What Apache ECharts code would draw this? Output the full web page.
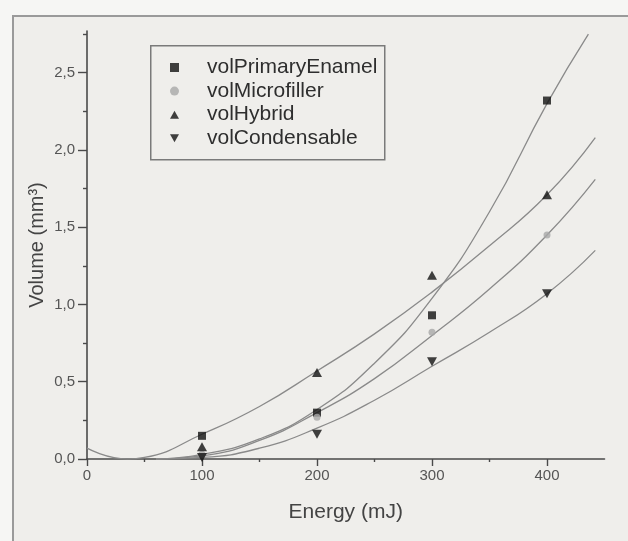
<!DOCTYPE html>
<html>
<head>
<meta charset="utf-8">
<script src="https://cdn.jsdelivr.net/npm/echarts@6/dist/echarts.min.js"></script>
<style>html,body{margin:0;padding:0;background:#f6f6f4}#c{width:628px;height:541px}</style>
</head>
<body>
<div id="c"></div>
<script>
// measured points (Energy mJ -> Volume mm3)
const energies = [100, 200, 300, 400];
const volPrimaryEnamel = [0.15, 0.30, 0.93, 2.32];
const volMicrofiller = [0.03, 0.27, 0.82, 1.45];
const volHybrid = [0.08, 0.56, 1.19, 1.71];
const volCondensable = [0.01, 0.16, 0.63, 1.07];

// fitted curves: [energy, volume]
const fitPrimaryEnamel = [[60,0],[100,0.03],[150,0.13],[200,0.32],[250,0.62],[300,1.04],[350,1.6],[400,2.3],[436,2.75]];
const fitMicrofiller = [[60,0],[100,0.02],[150,0.12],[200,0.3],[250,0.52],[300,0.8],[350,1.1],[400,1.45],[442,1.81]];
const fitHybrid = [[0,0.07],[35,0],[50,0.01],[100,0.16],[150,0.34],[200,0.57],[250,0.81],[300,1.08],[350,1.38],[400,1.71],[442,2.08]];
const fitCondensable = [[60,0],[100,0.01],[150,0.07],[200,0.2],[250,0.38],[300,0.6],[350,0.82],[400,1.07],[442,1.35]];

const seriesNames = ['volPrimaryEnamel', 'volMicrofiller', 'volHybrid', 'volCondensable'];

// tick positions
const xMajorTicks = [0, 100, 200, 300, 400];
const xMinorTicks = [50, 150, 250, 350];
const yMajorTicks = [0, 0.5, 1.0, 1.5, 2.0, 2.5];
const yMinorTicks = [0.25, 0.75, 1.25, 1.75, 2.25, 2.75];

const pts = arr => energies.map((e, i) => [e, arr[i]]);
const font = '"Liberation Sans", Arial, sans-serif';
const axisColor = '#4a4a4a';
const curveStyle = { color: '#8a8a8a', width: 1.3 };
const square = 'path://M0,0 L10,0 L10,10 L0,10 Z';
const tri = 'path://M5,0 L10,9 L0,9 Z';
const triDown = 'path://M0,0 L10,0 L5,9 Z';
const icons = [square, 'circle', tri, triDown];

const chart = echarts.init(document.getElementById('c'));
chart.setOption({
  backgroundColor: '#f6f6f4',
  animation: false,
  graphic: [
    { type: 'rect', left: 12, top: 15, shape: { width: 640, height: 560 }, style: { fill: '#efeeeb', stroke: '#9a9a9a', lineWidth: 2 }, z: -10, silent: true },
    { type: 'rect', left: 150, top: 45, shape: { width: 234, height: 114 }, style: { fill: 'rgba(0,0,0,0)', stroke: '#7a7a7a', lineWidth: 1.5 }, z: 5, silent: true }
  ],
  grid: { left: 87, right: 23.5, top: 31, bottom: 82, containLabel: false },
  legend: {
    data: seriesNames.map((n, i) => ({ name: n, icon: icons[i] })),
    orient: 'vertical',
    left: 170,
    top: 57,
    padding: 0,
    itemWidth: 9,
    itemHeight: 9,
    itemGap: 2.6,
    textStyle: { fontFamily: font, fontSize: 21, color: '#2e2e2e', padding: [0, 0, 0, 23] }
  },
  xAxis: [{
    type: 'value', min: 0, max: 450, interval: 100, position: 'bottom',
    name: 'Energy (mJ)', nameLocation: 'middle', nameGap: 43, nameMoveOverlap: false,
    nameTextStyle: { fontFamily: font, fontSize: 21, color: '#444' },
    axisLine: { show: true, onZero: false, lineStyle: { color: axisColor, width: 1.6 } },
    axisTick: { show: true, inside: false, length: 7, customValues: xMajorTicks, lineStyle: { color: axisColor, width: 1.4 } },
    axisLabel: { fontFamily: font, fontSize: 15, color: '#555', margin: 9, customValues: xMajorTicks },
    splitLine: { show: false }
  }, {
    type: 'value', min: 0, max: 450, position: 'bottom', offset: 0,
    axisLine: { show: false },
    axisTick: { show: true, inside: false, length: 3, customValues: xMinorTicks, lineStyle: { color: axisColor, width: 1.4 } },
    axisLabel: { show: false },
    splitLine: { show: false }
  }],
  yAxis: [{
    type: 'value', min: 0, max: 2.77, interval: 0.5, position: 'left',
    name: 'Volume (mm³)', nameLocation: 'middle', nameGap: 40, nameMoveOverlap: false,
    nameTextStyle: { fontFamily: font, fontSize: 20, color: '#444' },
    axisLine: { show: true, onZero: false, lineStyle: { color: axisColor, width: 1.6 } },
    axisTick: { show: true, inside: false, length: 9, customValues: yMajorTicks, lineStyle: { color: axisColor, width: 1.4 } },
    axisLabel: { fontFamily: font, fontSize: 15, color: '#555', margin: 12, customValues: yMajorTicks,
      formatter: v => v.toFixed(1).replace('.', ',') },
    splitLine: { show: false }
  }, {
    type: 'value', min: 0, max: 2.77, position: 'left', offset: 0,
    axisLine: { show: false },
    axisTick: { show: true, inside: false, length: 4, customValues: yMinorTicks, lineStyle: { color: axisColor, width: 1.4 } },
    axisLabel: { show: false },
    splitLine: { show: false }
  }],
  series: [
    { type: 'line', data: fitPrimaryEnamel, smooth: true, showSymbol: false, lineStyle: curveStyle, z: 1, silent: true },
    { type: 'line', data: fitMicrofiller, smooth: true, showSymbol: false, lineStyle: curveStyle, z: 1, silent: true },
    { type: 'line', data: fitHybrid, smooth: true, showSymbol: false, lineStyle: curveStyle, z: 1, silent: true },
    { type: 'line', data: fitCondensable, smooth: true, showSymbol: false, lineStyle: curveStyle, z: 1, silent: true },
    { name: seriesNames[0], type: 'scatter', data: pts(volPrimaryEnamel), symbol: square, symbolSize: 8, itemStyle: { color: '#111' }, z: 3 },
    { name: seriesNames[1], type: 'scatter', data: pts(volMicrofiller), symbol: 'circle', symbolSize: 7, itemStyle: { color: '#a8a8a8' }, z: 3 },
    { name: seriesNames[2], type: 'scatter', data: pts(volHybrid), symbol: tri, symbolSize: [10, 9], itemStyle: { color: '#111' }, z: 3 },
    { name: seriesNames[3], type: 'scatter', data: pts(volCondensable), symbol: triDown, symbolSize: [10, 9], itemStyle: { color: '#111' }, z: 3 }
  ]
});
</script>
</body>
</html>
